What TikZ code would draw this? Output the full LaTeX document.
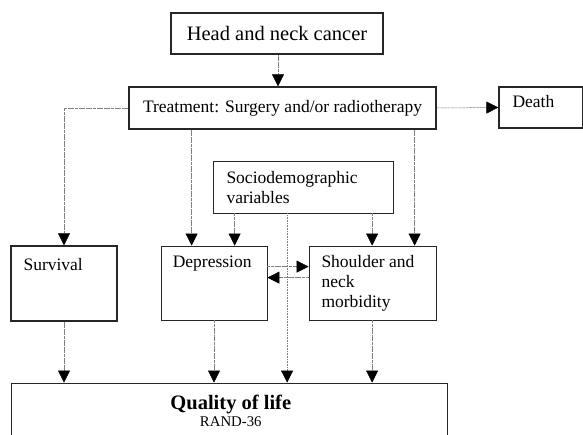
\documentclass[tikz,border=0pt]{standalone}
\usepackage{fontspec}
\setmainfont{Liberation Serif}
\usepackage{tikz}
\usetikzlibrary{positioning, arrows.meta}

\tikzset{
  box/.style={draw=black!85, line width=0.8pt, inner sep=0pt},
  boldbox/.style={box, line width=1.3pt},
  txt/.style={inner sep=0pt, anchor=north west, align=left, font=\fontsize{17.5}{20}\selectfont},
  tip/.tip={Triangle[length=12pt,width=12pt,color=black,fill=black]},
  conn/.style={draw=black!50, line width=0.5pt, dash pattern=on 3pt off 0.6pt, -tip},
  dotconn/.style={conn, dash pattern=on 0.8pt off 0.8pt}
}

\begin{document}
\begin{tikzpicture}[x=1pt, y=-1pt]

  % Frame
  \clip (0,0) rectangle (583,435);

  % Boxes
  \node[boldbox, minimum width=212pt, minimum height=41pt,
        font=\fontsize{20.5}{24}\selectfont] (head) at (277,33.5) {Head and neck cancer};
  \node[boldbox, minimum width=307pt, minimum height=42pt,
        font=\fontsize{17.5}{20}\selectfont] (treat) at (282.5,108) {Treatment: Surgery and/or radiotherapy};
  \node[boldbox, minimum width=83.5pt, minimum height=41pt] (death) at (540.75,107.5) {};
  \node[box, minimum width=180pt, minimum height=52pt] (socio) at (303,187) {};
  \node[boldbox, minimum width=106pt, minimum height=75pt] (survival) at (64,283.5) {};
  \node[box, minimum width=106pt, minimum height=74pt] (dep) at (214,283) {};
  \node[box, minimum width=127pt, minimum height=74pt] (shoulder) at (372.5,283) {};
  \node[box, minimum width=436pt, minimum height=62pt] (qol) at (229,414) {};

  % Texts
  \node[txt] (deathtxt) at ([shift={(14,9.3)}]death.north west) {Death};
  \node[txt] (sociotxt) at ([shift={(13.7,11)}]socio.north west) {Sociodemographic\\variables};
  \node[txt] (survtxt) at ([shift={(13,12.7)}]survival.north west) {Survival};
  \node[txt] (deptxt) at ([shift={(12,10.3)}]dep.north west) {Depression};
  \node[txt] (shtxt) at ([shift={(12.7,9.5)}]shoulder.north west) {Shoulder and\\neck\\morbidity};
  \node[inner sep=0pt, anchor=base, font=\fontsize{20.5}{24}\selectfont\bfseries]
    (qoltxt) at ([shift={(1.8,27)}]qol.north) {Quality of life};
  \node[inner sep=0pt, anchor=base, font=\fontsize{14.8}{17}\selectfont]
    (randtxt) at ([shift={(1.8,44.3)}]qol.north) {RAND-36};

  % Arrows from the top
  \draw[conn] (head.south -| 278,0) -- (treat.north -| 278,0);
  \draw[conn] (treat.east) -- (death.west);
  \draw[conn] (treat.west) -| (survival.north);
  \draw[conn] ([xshift=31pt]treat.south -| dep.west) -- ([xshift=31pt]dep.north west);
  \draw[conn] ([xshift=106pt]treat.south -| shoulder.west) -- ([xshift=106pt]shoulder.north west);

  % Sociodemographic variables
  \draw[conn] ([xshift=74pt]socio.south -| dep.west) -- ([xshift=74pt]dep.north west);
  \draw[conn] ([xshift=63.5pt]socio.south -| shoulder.west) -- ([xshift=63.5pt]shoulder.north west);
  \draw[dotconn] ([xshift=74.5pt]socio.south west) -- ([xshift=74.5pt]socio.south west |- qol.north);

  % Depression and morbidity
  \draw[conn] ([yshift=-21pt]dep.north east) -- ([yshift=-21pt]dep.north east -| shoulder.west);
  \draw[conn] ([yshift=-32pt]shoulder.north west) -- ([yshift=-32pt]shoulder.north west -| dep.east);

  % Arrows to quality of life
  \draw[conn] (survival.south) -- (survival.south |- qol.north);
  \draw[conn] (dep.south) -- (dep.south |- qol.north);
  \draw[conn] ([xshift=63.5pt]shoulder.south west) -- ([xshift=63.5pt]shoulder.south west |- qol.north);

\end{tikzpicture}
\end{document}
